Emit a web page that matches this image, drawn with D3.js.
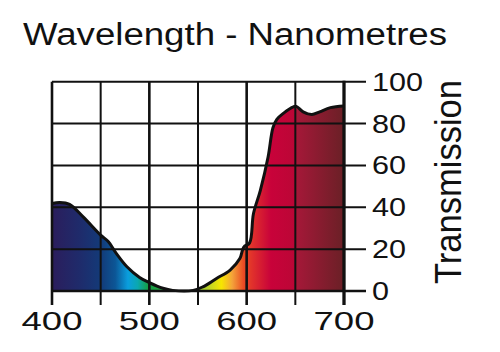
<!DOCTYPE html>
<html>
<head>
<meta charset="utf-8">
<script src="https://cdn.jsdelivr.net/npm/d3@7"></script>
<style>
  body { margin: 0; background: #fff; }
  text { font-family: "Liberation Sans", Arial, sans-serif; fill: #111; }
</style>
</head>
<body>
<svg id="chart"></svg>
<script>
// wavelength (nm) and % transmission
var wavelengths = [400, 408, 418, 432, 450, 458, 466, 477, 490, 500, 514, 524, 545, 555, 569, 583, 593, 597, 603, 607, 614, 622, 627, 631, 638, 648, 651, 658, 667, 675, 686, 700];
var transmission = [41.8, 42.3, 41.4, 35.4, 26.7, 23.5, 18, 11.6, 6.5, 4, 1.3, 0.3, 0.3, 2, 6, 10, 15.5, 21, 23, 37, 48, 64, 78, 82, 85, 88, 88.2, 85.6, 84.3, 85.6, 87.6, 88.4];

var xTicks = [400, 450, 500, 550, 600, 650, 700];
var xLabels = [400, 500, 600, 700];
var yTicks = [0, 20, 40, 60, 80, 100];

// spectrum colours under the curve
var specNm = [400, 430, 450, 465, 478, 488, 498, 510, 540, 560, 574, 585, 597, 606, 625, 648, 652, 700];
var specCol = ["#2b1d5c", "#1e2c6c", "#133a78", "#0c5696", "#0a9ede", "#0aa8b0", "#14a04a", "#20a040", "#6cbf3a", "#b8d22a", "#f7e600", "#f4a43a", "#ea4a24", "#e0302c", "#c8023a", "#bc0636", "#a41838", "#6a2026"];

var svg = d3.select("svg#chart")
    .attr("width", 500)
    .attr("height", 352);

var x = d3.scaleLinear().domain([400, 700]).range([52, 344]);
var y = d3.scaleLinear().domain([0, 100]).range([291, 81.7]);

var data = wavelengths.map(function(w, i) { return {w: w, t: transmission[i]}; });

var grad = svg.append("defs").append("linearGradient")
    .attr("id", "spec")
    .attr("gradientUnits", "userSpaceOnUse")
    .attr("x1", x(400)).attr("x2", x(700))
    .attr("y1", 0).attr("y2", 0);
grad.selectAll("stop")
    .data(specNm)
    .enter()
    .append("stop")
    .attr("offset", function(d) { return (d - 400) / 300; })
    .attr("stop-color", function(d, i) { return specCol[i]; });

var area = d3.area()
    .x(function(d) { return x(d.w); })
    .y0(y(0))
    .y1(function(d) { return y(d.t); })
    .curve(d3.curveCatmullRom);

var line = d3.line()
    .x(function(d) { return x(d.w); })
    .y(function(d) { return y(d.t); })
    .curve(d3.curveCatmullRom);

svg.append("path")
    .datum(data)
    .attr("d", area)
    .attr("fill", "url(#spec)");

// grid
svg.append("g")
    .selectAll("line")
    .data(xTicks)
    .enter()
    .append("line")
    .attr("x1", x).attr("x2", x)
    .attr("y1", y(100)).attr("y2", 305)
    .attr("stroke", "#111")
    .attr("stroke-width", function(d) { return (d % 100 === 0) ? 2.6 : 2; });

svg.append("g")
    .selectAll("line")
    .data(yTicks)
    .enter()
    .append("line")
    .attr("x1", x(400)).attr("x2", 366)
    .attr("y1", y).attr("y2", y)
    .attr("stroke", "#111")
    .attr("stroke-width", function(d) { return d === 0 ? 2.6 : 2; });

svg.append("line")
    .attr("x1", x(700)).attr("x2", x(700))
    .attr("y1", y(100) - 1).attr("y2", 305)
    .attr("stroke", "#111")
    .attr("stroke-width", 3);

svg.append("path")
    .datum(data)
    .attr("d", line)
    .attr("fill", "none")
    .attr("stroke", "#111")
    .attr("stroke-width", 3)
    .attr("stroke-linejoin", "round");

// labels
svg.append("text")
    .attr("x", 23).attr("y", 45)
    .attr("font-size", 31)
    .attr("textLength", 424)
    .attr("lengthAdjust", "spacingAndGlyphs")
    .text("Wavelength - Nanometres");

svg.append("g")
    .selectAll("text")
    .data(xLabels)
    .enter()
    .append("text")
    .attr("x", x).attr("y", 330)
    .attr("text-anchor", "middle")
    .attr("font-size", 25)
    .attr("textLength", 61)
    .attr("lengthAdjust", "spacingAndGlyphs")
    .text(function(d) { return d; });

svg.append("g")
    .selectAll("text")
    .data(yTicks)
    .enter()
    .append("text")
    .attr("x", 372).attr("y", function(d) { return y(d) + 9; })
    .attr("font-size", 25)
    .attr("textLength", function(d) { return String(d).length * 17; })
    .attr("lengthAdjust", "spacingAndGlyphs")
    .text(function(d) { return d; });

svg.append("text")
    .attr("transform", "translate(461,284) rotate(-90)")
    .attr("font-size", 36)
    .attr("textLength", 204)
    .attr("lengthAdjust", "spacingAndGlyphs")
    .text("Transmission");
</script>
</body>
</html>
